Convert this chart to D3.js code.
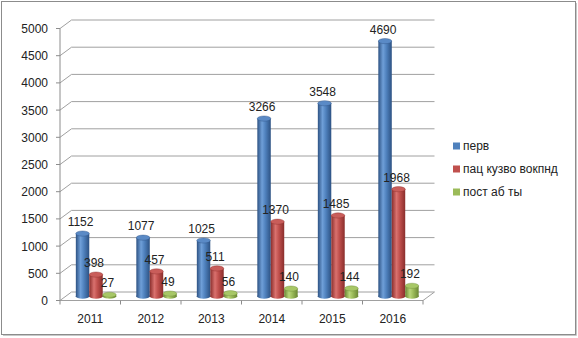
<html>
  <meta charset="utf-8" />
  <script src="https://d3js.org/d3.v7.min.js"></script>
  <style>
    body { margin: 0; background: #fff; }
    text { font-family: "Liberation Sans", Arial, sans-serif; fill: #222; }
  </style>
  <body>
    <div id="chart"></div>
    <script>
      // chart data
      const years = ["2011", "2012", "2013", "2014", "2015", "2016"];
      const seriesNames = ["перв", "пац кузво вокпнд", "пост аб ты"];
      const perv = [1152, 1077, 1025, 3266, 3548, 4690];
      const pats = [398, 457, 511, 1370, 1485, 1968];
      const post = [27, 49, 56, 140, 144, 192];
      const yTicks = [0, 500, 1000, 1500, 2000, 2500, 3000, 3500, 4000, 4500, 5000];

      const seriesValues = [perv, pats, post];
      const colors = [
        { base: "#4f81bd", dark: "#2d5283", light: "#6f9fd8", top: "#5a8ac6" },
        { base: "#c0504d", dark: "#8a2e2c", light: "#d9716e", top: "#c95d5a" },
        { base: "#9bbb59", dark: "#6a8734", light: "#b9d67a", top: "#a7c766" }
      ];

      const W = 578, H = 338;
      const x0 = 60, x1 = 423;
      const dx = 11.5, dy = -8.5; // depth of the 3d box

      const svg = d3.select("#chart").append("svg")
        .attr("width", W).attr("height", H);

      // outer frame
      svg.append("rect").attr("x", 1.5).attr("y", 1.5)
        .attr("width", W - 4).attr("height", H - 5)
        .attr("fill", "none").attr("stroke", "#8c8c8c").attr("stroke-width", 1);
      svg.append("line").attr("x1", 3).attr("x2", W - 1.5).attr("y1", H - 2.5).attr("y2", H - 2.5)
        .attr("stroke", "#c8c8c8");
      svg.append("line").attr("x1", W - 1.5).attr("x2", W - 1.5).attr("y1", 3).attr("y2", H - 2.5)
        .attr("stroke", "#c8c8c8");

      const x = d3.scaleBand().domain(years).range([x0, x1]).paddingInner(0).paddingOuter(0);
      const y = d3.scaleLinear().domain([0, 5000]).range([300.5, 28.5]);

      // inner band for the three series, gap width 150%
      const barW = x.bandwidth() / 4.5;
      const xs = d3.scaleBand().domain(d3.range(3))
        .range([0.75 * barW, 3.75 * barW]);

      const grid = svg.append("g").attr("stroke", "#a0a0a0").attr("fill", "none");

      // back wall gridlines and side wall diagonals
      yTicks.forEach(t => {
        grid.append("line")
          .attr("x1", x0 + dx).attr("x2", x1 + dx)
          .attr("y1", y(t) + dy).attr("y2", y(t) + dy);
        grid.append("line")
          .attr("x1", x0).attr("x2", x0 + dx)
          .attr("y1", y(t)).attr("y2", y(t) + dy);
      });
      // floor
      grid.append("line").attr("x1", x0).attr("x2", x1).attr("y1", y(0)).attr("y2", y(0));
      grid.append("line").attr("x1", x1).attr("x2", x1 + dx).attr("y1", y(0)).attr("y2", y(0) + dy);

      // y axis
      svg.append("line").attr("x1", x0).attr("x2", x0)
        .attr("y1", y(5000)).attr("y2", y(0)).attr("stroke", "#8c8c8c");
      const yAxis = svg.append("g");
      yTicks.forEach(t => {
        yAxis.append("line").attr("x1", x0 - 4).attr("x2", x0)
          .attr("y1", y(t)).attr("y2", y(t)).attr("stroke", "#8c8c8c");
        yAxis.append("text").attr("x", x0 - 12).attr("y", y(t) + 4.5)
          .attr("text-anchor", "end").attr("font-size", 12).text(t);
      });

      // x axis
      const xAxis = svg.append("g");
      d3.range(years.length + 1).forEach(i => {
        const xx = x0 + i * x.bandwidth();
        xAxis.append("line").attr("x1", xx).attr("x2", xx)
          .attr("y1", y(0)).attr("y2", y(0) + 4).attr("stroke", "#8c8c8c");
      });
      years.forEach(yr => {
        xAxis.append("text").attr("x", x(yr) + x.bandwidth() / 2).attr("y", 323)
          .attr("text-anchor", "middle").attr("font-size", 12).text(yr);
      });

      // gradients for cylinders
      const defs = svg.append("defs");
      colors.forEach((c, i) => {
        const g = defs.append("linearGradient").attr("id", "cyl" + i)
          .attr("x1", "0%").attr("x2", "100%").attr("y1", "0%").attr("y2", "0%");
        g.append("stop").attr("offset", "0%").attr("stop-color", c.dark);
        g.append("stop").attr("offset", "35%").attr("stop-color", c.light);
        g.append("stop").attr("offset", "60%").attr("stop-color", c.base);
        g.append("stop").attr("offset", "100%").attr("stop-color", c.dark);
      });

      // bars as cylinders, placed at half depth
      const ry = 2.6;
      const bars = svg.append("g");
      const labels = svg.append("g");
      years.forEach((yr, j) => {
        seriesValues.forEach((vals, i) => {
          const v = vals[j];
          const bx = x(yr) + xs(i) + dx / 2;
          const cx = bx + barW / 2;
          const yb = y(0) + dy / 2;
          const yt = y(v) + dy / 2;
          const g = bars.append("g");
          g.append("ellipse").attr("cx", cx).attr("cy", yb)
            .attr("rx", barW / 2).attr("ry", ry).attr("fill", "url(#cyl" + i + ")");
          g.append("rect").attr("x", bx).attr("y", yt)
            .attr("width", barW).attr("height", Math.max(0, yb - yt))
            .attr("fill", "url(#cyl" + i + ")");
          g.append("ellipse").attr("cx", cx).attr("cy", yt)
            .attr("rx", barW / 2).attr("ry", ry)
            .attr("fill", colors[i].top).attr("stroke", colors[i].dark).attr("stroke-width", 0.4);
          labels.append("text").attr("x", cx - 2).attr("y", yt - 7.5)
            .attr("text-anchor", "middle").attr("font-size", 12).text(v);
        });
      });

      // legend
      const legend = svg.append("g").attr("transform", "translate(453,142.5)");
      seriesNames.forEach((n, i) => {
        legend.append("rect").attr("x", 0).attr("y", i * 23)
          .attr("width", 7).attr("height", 7).attr("fill", colors[i].base);
        legend.append("text").attr("x", 10).attr("y", i * 23 + 7.5)
          .attr("font-size", 12).text(n);
      });
    </script>
  </body>
</html>
